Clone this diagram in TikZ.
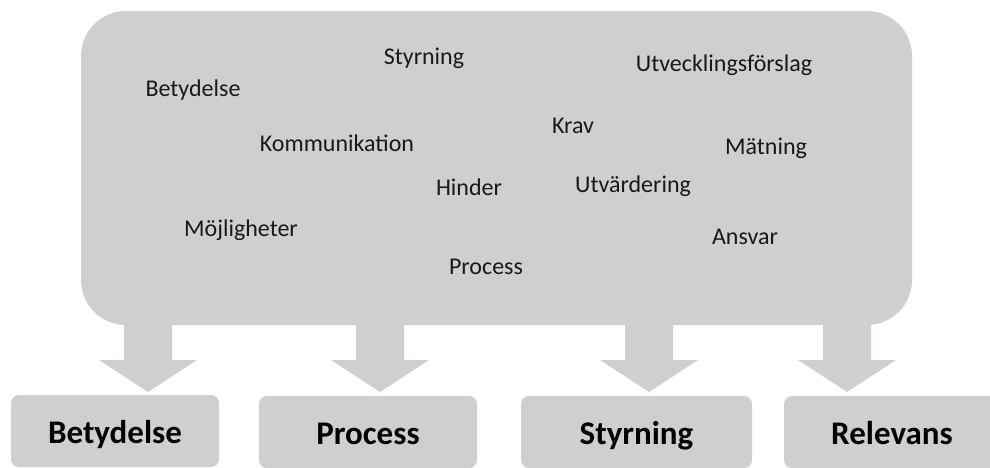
\documentclass[tikz,border=0pt]{standalone}
\usepackage{fontspec}
\setmainfont{Carlito}
\usepackage{xcolor}
\usepackage{tikz}
\usetikzlibrary{positioning}
\definecolor{boxc}{HTML}{D0CECE}
\tikzset{
  cloudbox/.style={fill=boxc,rounded corners=45pt,minimum width=831pt,minimum height=314pt,inner sep=0pt},
  word/.style={font=\fontsize{24}{28}\selectfont,text=black!90,inner sep=0pt},
  res/.style={fill=boxc,rounded corners=8pt,minimum height=72pt,inner sep=0pt,text height=24pt,text depth=0pt,font=\bfseries\fontsize{33}{36}\selectfont}
}

\begin{document}
\begin{tikzpicture}[x=1pt,y=-1pt]
\useasboundingbox (0,0) rectangle (990,467);
\clip (0,0) rectangle (990,467);
\node[cloudbox] (cloud) at (496.5,168) {};
% themes in the box
\node[word] (wsty) at (424,58) {Styrning};
\node[word] (wutv) at (724,65) {Utvecklingsförslag};
\node[word] (wbet) at (193,90) {Betydelse};
\node[word] (wkra) at (573,126) {Krav};
\node[word] (wkom) at (337,143) {Kommunikation};
\node[word] (wmat) at (766,148) {Mätning};
\node[word] (whin) at (469,187) {Hinder};
\node[word] (wutd) at (633,186) {Utvärdering};
\node[word] (wmoj) at (241,230) {Möjligheter};
\node[word] (wans) at (745,237) {Ansvar};
\node[word] (wpro) at (486,267) {Process};
% block arrows
\foreach \tx [count=\i] in {148,380,649,847}{
  \coordinate (tip\i) at (\tx,392);
  \fill[boxc] (tip\i) -- ++(49,-32) -- ++(-25,0) -- ++(0,-60) -- ++(-48,0) -- ++(0,60) -- ++(-25,0) -- cycle;
}
% result boxes
\node[res,minimum width=208pt] (bet) at (115,431) {Betydelse};
\node[res,minimum width=218pt] (pro) at (368,432) {Process};
\node[res,minimum width=231pt] (sty) at (636.5,432) {Styrning};
\node[res,minimum width=216pt] (rel) at (892,432) {Relevans};
\end{tikzpicture}
\end{document}
